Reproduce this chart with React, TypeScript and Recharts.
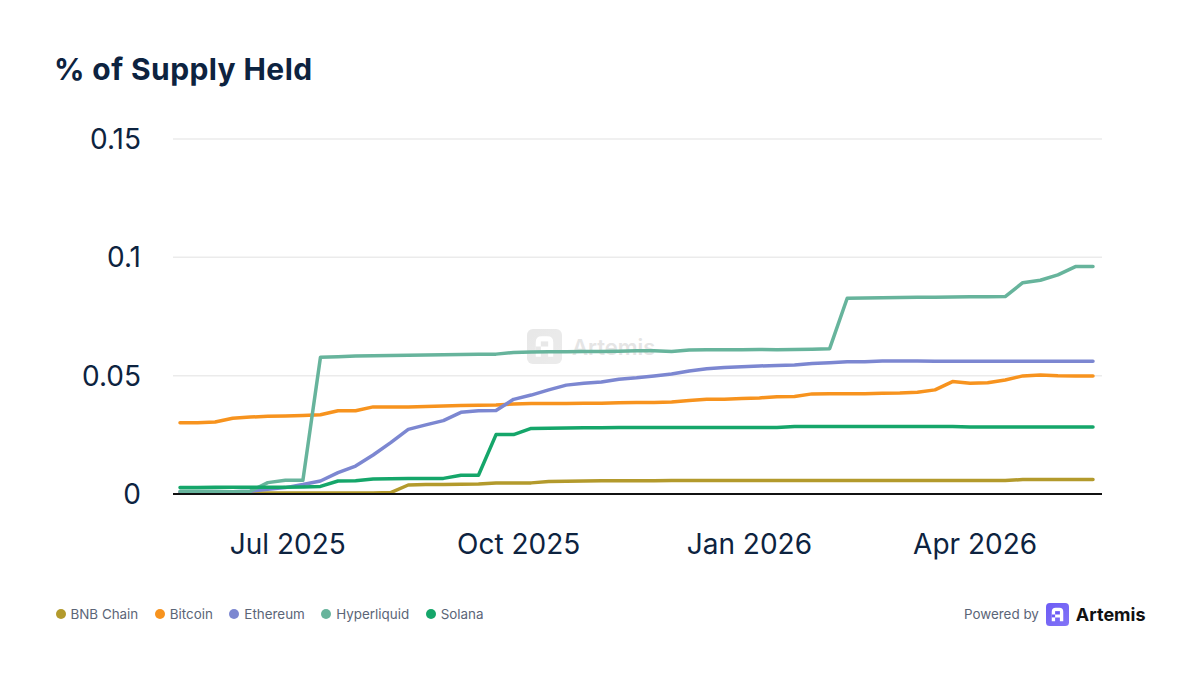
import React from "react";
import { LineChart, Line, XAxis, YAxis, CartesianGrid } from "recharts";

const dates = [
  "2025-05-19", "2025-05-26", "2025-06-02", "2025-06-09", "2025-06-16", "2025-06-23", "2025-06-30",
  "2025-07-07", "2025-07-14", "2025-07-21", "2025-07-28", "2025-08-04", "2025-08-11", "2025-08-18",
  "2025-08-25", "2025-09-01", "2025-09-08", "2025-09-15", "2025-09-22", "2025-09-29", "2025-10-06",
  "2025-10-13", "2025-10-20", "2025-10-27", "2025-11-03", "2025-11-10", "2025-11-17", "2025-11-24",
  "2025-12-01", "2025-12-08", "2025-12-15", "2025-12-22", "2025-12-29", "2026-01-05", "2026-01-12",
  "2026-01-19", "2026-01-26", "2026-02-02", "2026-02-09", "2026-02-16", "2026-02-23", "2026-03-02",
  "2026-03-09", "2026-03-16", "2026-03-23", "2026-03-30", "2026-04-06", "2026-04-13", "2026-04-20",
  "2026-04-27", "2026-05-04", "2026-05-11", "2026-05-18",
];

const bnbChain = [
  0.0004, 0.0004, 0.0004, 0.0004, 0.0004, 0.0004, 0.0004, 0.0004, 0.0004, 0.0004, 0.0004, 0.0004,
  0.0006, 0.0038, 0.004, 0.004, 0.0041, 0.0042, 0.0046, 0.0047, 0.0047, 0.0053, 0.0054, 0.0055,
  0.0056, 0.0056, 0.0056, 0.0056, 0.0057, 0.0057, 0.0057, 0.0057, 0.0057, 0.0057, 0.0057, 0.0057,
  0.0057, 0.0057, 0.0057, 0.0057, 0.0057, 0.0057, 0.0057, 0.0057, 0.0057, 0.0057, 0.0057, 0.0057,
  0.0061, 0.0061, 0.0061, 0.0061, 0.0061,
];

const bitcoin = [
  0.0301, 0.0301, 0.0304, 0.032, 0.0325, 0.0328, 0.033, 0.0332, 0.0335, 0.0352, 0.0352, 0.0368,
  0.0368, 0.0368, 0.037, 0.0372, 0.0374, 0.0375, 0.0376, 0.038, 0.0382, 0.0382, 0.0382, 0.0383,
  0.0383, 0.0386, 0.0387, 0.0387, 0.0389, 0.0395, 0.04, 0.04, 0.0403, 0.0406, 0.0411, 0.0412,
  0.0423, 0.0424, 0.0424, 0.0424, 0.0426, 0.0427, 0.043, 0.044, 0.0475, 0.0468, 0.047, 0.0482,
  0.0499, 0.0503, 0.05, 0.0499, 0.0499,
];

const ethereum = [
  0.0008, 0.0008, 0.0008, 0.0009, 0.0012, 0.002, 0.0027, 0.004, 0.0055, 0.009, 0.0118, 0.0165,
  0.0217, 0.0273, 0.0292, 0.031, 0.0345, 0.0352, 0.0353, 0.04, 0.0418, 0.044, 0.046, 0.0468,
  0.0473, 0.0485, 0.0491, 0.0499, 0.0507, 0.052, 0.0529, 0.0535, 0.0538, 0.0541, 0.0543, 0.0545,
  0.0551, 0.0555, 0.0559, 0.0559, 0.0562, 0.0562, 0.0562, 0.0561, 0.0561, 0.0561, 0.0561, 0.0561,
  0.0561, 0.0561, 0.0561, 0.0561, 0.0561,
];

const hyperliquid = [
  0.0012, 0.0012, 0.0012, 0.001, 0.0012, 0.0048, 0.0058, 0.0058, 0.0578, 0.058, 0.0583, 0.0584,
  0.0585, 0.0586, 0.0587, 0.0588, 0.0589, 0.059, 0.0591, 0.0598, 0.06, 0.0601, 0.0601, 0.0602,
  0.0602, 0.0603, 0.0605, 0.0605, 0.0602, 0.0608, 0.0609, 0.061, 0.061, 0.0611, 0.061, 0.0611,
  0.0612, 0.0614, 0.0827, 0.0828, 0.0829, 0.083, 0.0831, 0.0831, 0.0832, 0.0833, 0.0833, 0.0834,
  0.0893, 0.0903, 0.0926, 0.0961, 0.0961,
];

const solana = [
  0.0027, 0.0027, 0.0028, 0.0028, 0.0028, 0.0028, 0.0029, 0.003, 0.0032, 0.0055, 0.0056, 0.0063,
  0.0064, 0.0065, 0.0065, 0.0066, 0.0079, 0.0079, 0.0251, 0.0251, 0.0277, 0.0278, 0.0279, 0.028,
  0.028, 0.0281, 0.0281, 0.0281, 0.0281, 0.0281, 0.0281, 0.0281, 0.0281, 0.0281, 0.0281, 0.0285,
  0.0285, 0.0285, 0.0285, 0.0285, 0.0285, 0.0285, 0.0285, 0.0285, 0.0285, 0.0283, 0.0283, 0.0283,
  0.0283, 0.0283, 0.0283, 0.0283, 0.0283,
];

const xTickDates = ["2025-07-01", "2025-10-01", "2026-01-01", "2026-04-01"];
const xTickLabels = ["Jul 2025", "Oct 2025", "Jan 2026", "Apr 2026"];
const yTicks = [0, 0.05, 0.1, 0.15];

const series = [
  { key: "bnb", name: "BNB Chain", color: "#b39a2c", values: bnbChain },
  { key: "btc", name: "Bitcoin", color: "#f7931e", values: bitcoin },
  { key: "eth", name: "Ethereum", color: "#7c87d1", values: ethereum },
  { key: "hype", name: "Hyperliquid", color: "#67b49c", values: hyperliquid },
  { key: "sol", name: "Solana", color: "#15a66a", values: solana },
];

const toTs = (d: string) => {
  const [y, m, day] = d.split("-").map(Number);
  return Date.UTC(y, m - 1, day);
};

const data = dates.map((d, i) => {
  const row: Record<string, number> = { t: toTs(d) };
  series.forEach((s) => {
    row[s.key] = s.values[i];
  });
  return row;
});

const xTicks = xTickDates.map(toTs);
const tickLabelMap: Record<number, string> = {};
xTicks.forEach((t, i) => {
  tickLabelMap[t] = xTickLabels[i];
});

const FONT = "Inter, 'Noto Sans', sans-serif";
const NAVY = "#0d2340";

const ArtemisLogo = ({ size, bg, fg }: { size: number; bg: string; fg: string }) => (
  <svg width={size} height={size} viewBox="0 0 24 24">
    <defs>
      <linearGradient id={`g${bg.replace("#", "")}`} x1="0" y1="0" x2="1" y2="1">
        <stop offset="0" stopColor={bg} />
        <stop offset="1" stopColor={bg} stopOpacity={0.85} />
      </linearGradient>
    </defs>
    <rect x="0" y="0" width="24" height="24" rx="4" fill={`url(#g${bg.replace("#", "")})`} />
    <path d="M6,19 V9 Q6,5 10,5 H14 Q18,5 18,9 V19 H14.5 V15 H9.5 V19 Z" fill={fg} />
    <rect x="9.5" y="8.5" width="5" height="3.5" fill={bg} />
    <rect x="6" y="12" width="3.5" height="3" fill={bg} />
  </svg>
);

export default function App() {
  return (
    <div
      style={{
        position: "absolute",
        left: 0,
        top: 0,
        width: 1200,
        height: 675,
        background: "#ffffff",
        fontFamily: FONT,
        overflow: "hidden",
      }}
    >
      <div
        style={{
          position: "absolute",
          left: 54,
          top: 51,
          fontSize: 30,
          fontWeight: 700,
          color: NAVY,
          letterSpacing: 0.4,
          lineHeight: "36px",
        }}
      >
        % of Supply Held
      </div>

      {/* watermark */}
      <div
        style={{
          position: "absolute",
          left: 527,
          top: 329,
          display: "flex",
          alignItems: "center",
          opacity: 0.55,
        }}
      >
        <ArtemisLogo size={35} bg="#d6d6d6" fg="#ffffff" />
        <span style={{ marginLeft: 10, fontSize: 22, fontWeight: 600, color: "#d0d0d0" }}>Artemis</span>
      </div>

      <div style={{ position: "absolute", left: 0, top: 0 }}>
        <LineChart
          width={1200}
          height={675}
          data={data}
          margin={{ top: 139, right: 98, bottom: 0, left: 0 }}
        >
          <CartesianGrid vertical={false} stroke="#ebebeb" strokeWidth={1.5} />
          <XAxis
            dataKey="t"
            type="number"
            scale="linear"
            domain={[toTs(dates[0]), toTs(dates[dates.length - 1])]}
            ticks={xTicks}
            tickFormatter={(v: number) => tickLabelMap[v] ?? ""}
            padding={{ left: 7, right: 9 }}
            height={181}
            axisLine={{ stroke: "#111111", strokeWidth: 2 }}
            tickLine={false}
            tickSize={0}
            tickMargin={40}
            tick={{ fill: NAVY, fontSize: 28, fontFamily: FONT }}
            interval={0}
          />
          <YAxis
            type="number"
            domain={[0, 0.15]}
            ticks={yTicks}
            width={173}
            axisLine={false}
            tickLine={false}
            tickSize={0}
            tickMargin={32}
            tick={{ fill: NAVY, fontSize: 28, fontFamily: FONT }}
            interval={0}
          />
          {series.map((s) => (
            <Line
              key={s.key}
              type="linear"
              dataKey={s.key}
              name={s.name}
              stroke={s.color}
              strokeWidth={3.5}
              dot={false}
              activeDot={false}
              isAnimationActive={false}
              strokeLinejoin="round"
              strokeLinecap="round"
            />
          ))}
        </LineChart>
      </div>

      {/* legend */}
      <div
        style={{
          position: "absolute",
          left: 55.5,
          top: 604,
          height: 20,
          display: "flex",
          alignItems: "center",
          fontSize: 13.4,
          color: "#5b6577",
        }}
      >
        {series.map((s) => (
          <div key={s.key} style={{ display: "flex", alignItems: "center", marginRight: 16.5 }}>
            <span
              style={{
                width: 10,
                height: 10,
                borderRadius: 5,
                background: s.color,
                display: "inline-block",
                marginRight: 5,
              }}
            />
            <span>{s.name}</span>
          </div>
        ))}
      </div>

      {/* powered by */}
      <div
        style={{
          position: "absolute",
          left: 964,
          top: 602,
          height: 24,
          display: "flex",
          alignItems: "center",
        }}
      >
        <span style={{ fontSize: 13.4, color: "#5b6577", marginRight: 7 }}>Powered by</span>
        <ArtemisLogo size={23} bg="#6d5cf5" fg="#ffffff" />
        <span style={{ marginLeft: 7, fontSize: 18, fontWeight: 700, color: "#111111" }}>Artemis</span>
      </div>
    </div>
  );
}
